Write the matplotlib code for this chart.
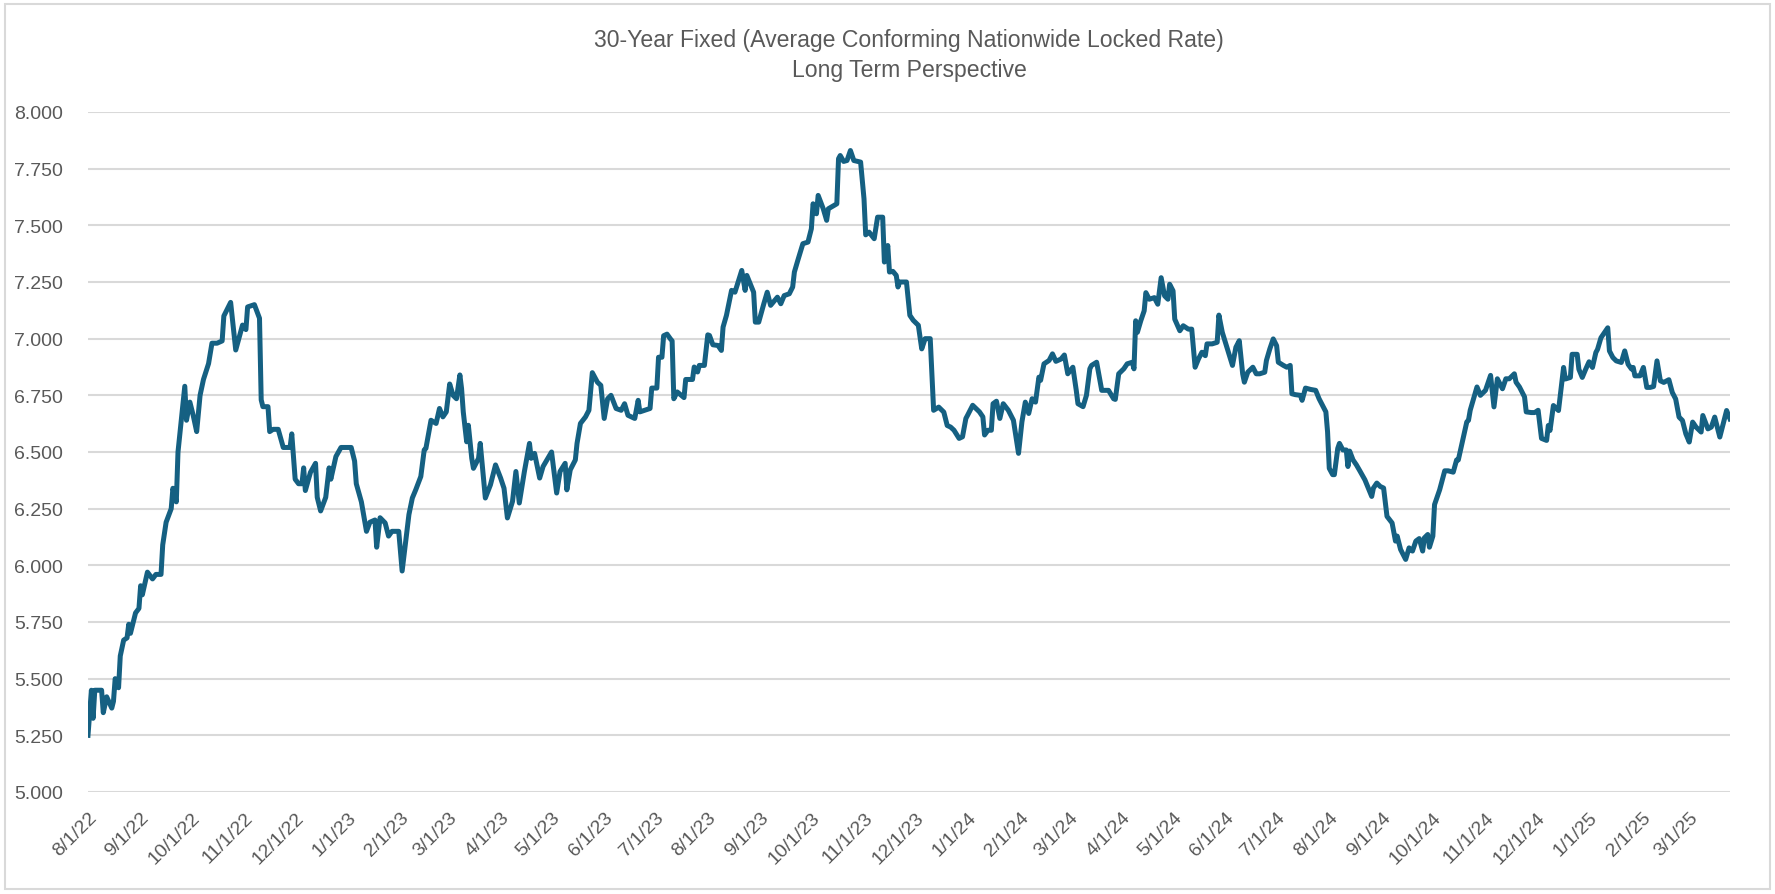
import matplotlib
matplotlib.use("Agg")
import matplotlib.pyplot as plt
import matplotlib.dates as mdates
from matplotlib.patches import Rectangle
import numpy as np

start_date = "2022-08-01"

# days after 8/1/22
day_offset = [
    0, 2, 3, 4, 7, 8, 9, 11, 14, 15, 16, 18, 19, 21, 23, 24, 25, 28, 30, 31, 32, 35, 38, 40, 43, 44, 46, 49, 50, 52, 53,
    57, 58, 60, 62, 64, 66, 68, 71, 73, 76, 79, 80, 84, 87, 91, 93, 94, 98, 101, 102, 103, 106, 107, 109, 112, 115,
    119, 120, 122, 124, 126, 127, 128, 131, 134, 135, 137, 140, 142, 143, 146, 149, 155, 157, 158, 161, 164, 166, 169,
    170, 172, 175, 177, 179, 183, 185, 187, 189, 191, 193, 196, 198, 199, 202, 205, 207, 209, 211, 213, 215, 217, 219,
    220, 221, 223, 224, 226, 227, 230, 231, 234, 237, 240, 243, 245, 247, 250, 252, 254, 257, 260, 261, 263, 266, 268,
    273, 276, 278, 281, 282, 284, 287, 288, 290, 293, 295, 297, 300, 302, 304, 306, 308, 311, 314, 316, 318, 322, 324,
    325, 331, 332, 335, 336, 338, 339, 341, 343, 344, 345, 347, 351, 352, 356, 357, 359, 360, 363, 365, 366, 368, 371,
    373, 374, 376, 379, 381, 385, 387, 388, 392, 393, 395, 398, 400, 402, 406, 408, 410, 413, 415, 416, 418, 421, 424,
    426, 427, 429, 430, 433, 435, 436, 441, 442, 443, 445, 447, 449, 451, 455, 457, 458, 460, 463, 465, 468, 469, 471,
    472, 474, 476, 477, 478, 482, 484, 486, 489, 491, 493, 496, 498, 501, 504, 506, 508, 510, 513, 515, 517, 518, 521,
    525, 527, 528, 530, 532, 533, 535, 537, 539, 542, 545, 548, 550, 552, 554, 556, 558, 560, 561, 563, 566, 568, 570,
    573, 575, 577, 580, 582, 583, 586, 588, 590, 591, 594, 597, 601, 604, 605, 607, 610, 612, 615, 616, 617, 618, 620,
    622, 623, 625, 628, 630, 632, 634, 636, 637, 639, 640, 643, 645, 648, 650, 652, 654, 656, 658, 659, 662, 665, 666,
    668, 671, 674, 676, 678, 680, 681, 683, 686, 688, 690, 693, 694, 696, 698, 700, 701, 704, 706, 708, 709, 711, 714,
    715, 717, 720, 723, 725, 727, 729, 730, 731, 733, 734, 736, 737, 739, 741, 742, 743, 745, 747, 749, 752, 754, 756,
    757, 759, 761, 763, 765, 768, 770, 771, 773, 776, 778, 780, 782, 784, 786, 787, 789, 790, 792, 793, 795, 796, 799,
    801, 804, 806, 807, 810, 812, 813, 814, 818, 820, 823, 826, 828, 830, 833, 835, 837, 840, 841, 843, 846, 847, 850,
    852, 854, 856, 859, 860, 861, 863, 866, 869, 870, 873, 874, 877, 878, 880, 882, 884, 886, 888, 889, 891, 893, 895,
    896, 898, 900, 903, 905, 907, 909, 910, 911, 914, 916, 918, 920, 922, 924, 926, 928, 931, 933, 935, 937, 939, 941,
    943, 945, 947, 950, 951, 954, 956, 958, 961, 963, 965, 967,
]

rate = [
    5.25, 5.449, 5.325, 5.449, 5.449, 5.449, 5.35, 5.42, 5.37, 5.40, 5.50, 5.46, 5.60, 5.67, 5.68, 5.74, 5.70, 5.79,
    5.81, 5.91, 5.87, 5.97, 5.94, 5.96, 5.96, 6.09, 6.19, 6.25, 6.34, 6.28, 6.50,
    6.79, 6.64, 6.72, 6.66, 6.59, 6.75, 6.82, 6.89, 6.98, 6.98, 6.99, 7.10, 7.16, 6.95, 7.06, 7.04, 7.14, 7.15, 7.09,
    6.73, 6.70, 6.70, 6.59, 6.60, 6.60, 6.52,
    6.52, 6.58, 6.38, 6.36, 6.36, 6.43, 6.33, 6.41, 6.45, 6.30, 6.24, 6.30, 6.43, 6.38, 6.48, 6.52, 6.52, 6.46, 6.36,
    6.28, 6.15, 6.19, 6.20,
    6.08, 6.21, 6.187, 6.129, 6.15, 6.15, 5.975, 6.10, 6.224, 6.297, 6.333, 6.392, 6.509, 6.516, 6.64, 6.626, 6.692,
    6.655, 6.677, 6.80, 6.75, 6.735, 6.84,
    6.78, 6.677, 6.545, 6.618, 6.472, 6.428, 6.472, 6.538, 6.297, 6.355, 6.443, 6.385, 6.34, 6.209, 6.282, 6.414,
    6.275, 6.414, 6.538, 6.472, 6.494, 6.385, 6.436,
    6.50, 6.319, 6.414, 6.45, 6.333, 6.421, 6.465, 6.538, 6.626, 6.655, 6.684, 6.85, 6.808, 6.794, 6.648, 6.735, 6.75,
    6.692, 6.684, 6.713, 6.662, 6.648, 6.728,
    6.677, 6.692, 6.782, 6.782, 6.918, 6.918, 7.013, 7.02, 6.999, 6.99, 6.735, 6.765, 6.74, 6.82, 6.82, 6.875, 6.853,
    6.882, 6.882, 7.017, 7.014, 6.973, 6.97,
    6.948, 7.051, 7.103, 7.213, 7.205, 7.301, 7.213, 7.279, 7.205, 7.073, 7.073, 7.154, 7.205, 7.147, 7.183, 7.154,
    7.19, 7.198, 7.228, 7.294, 7.345, 7.419, 7.426,
    7.485, 7.595, 7.551, 7.632, 7.573, 7.522, 7.573, 7.595, 7.794, 7.808, 7.782, 7.786, 7.83, 7.786, 7.779, 7.617,
    7.458, 7.47, 7.441, 7.536, 7.536, 7.338, 7.411,
    7.294, 7.297, 7.279, 7.228, 7.25, 7.25, 7.103, 7.081, 7.059, 6.955, 7.0, 7.0, 6.684, 6.698, 6.676, 6.617, 6.61,
    6.596, 6.56, 6.567, 6.648, 6.662, 6.706,
    6.677, 6.655, 6.575, 6.596, 6.596, 6.713, 6.724, 6.648, 6.713, 6.684, 6.64, 6.494, 6.633, 6.72, 6.67, 6.735, 6.72,
    6.83, 6.816, 6.889, 6.904, 6.933, 6.90,
    6.91, 6.928, 6.845, 6.874, 6.772, 6.713, 6.70, 6.75, 6.867, 6.882, 6.896, 6.772, 6.772, 6.735, 6.732, 6.845, 6.867,
    6.889, 6.896, 6.867, 7.079, 7.028, 7.079,
    7.123, 7.203, 7.174, 7.181, 7.152, 7.269, 7.189, 7.174, 7.24, 7.211, 7.086, 7.035, 7.057, 7.042, 7.042, 6.874,
    6.911, 6.94, 6.925, 6.977, 6.977, 6.984, 7.104,
    7.028, 6.955, 6.882, 6.962, 6.991, 6.845, 6.808, 6.852, 6.874, 6.845, 6.845, 6.852, 6.904, 6.955, 6.999, 6.969,
    6.896, 6.882, 6.874, 6.882, 6.757, 6.753, 6.75,
    6.728, 6.782, 6.776, 6.772, 6.735, 6.706, 6.677, 6.589, 6.428, 6.40, 6.40, 6.516, 6.538, 6.509, 6.509, 6.436,
    6.504, 6.465, 6.443, 6.417, 6.377, 6.341, 6.304,
    6.341, 6.363, 6.348, 6.341, 6.216, 6.187, 6.107, 6.129, 6.07, 6.026, 6.077, 6.063, 6.107, 6.118, 6.063, 6.121,
    6.136, 6.08, 6.129, 6.268, 6.311, 6.333, 6.417,
    6.417, 6.411, 6.465, 6.465, 6.567, 6.633, 6.64, 6.684, 6.787, 6.75, 6.772, 6.838, 6.699, 6.823, 6.779, 6.823,
    6.823, 6.845, 6.808, 6.787, 6.743, 6.677, 6.674,
    6.674, 6.684, 6.56, 6.551, 6.617, 6.595, 6.705, 6.683, 6.873, 6.822, 6.829, 6.931, 6.931, 6.865, 6.829, 6.865,
    6.898, 6.873, 6.939, 6.953, 7.004, 7.026, 7.048,
    6.946, 6.917, 6.902, 6.895, 6.946, 6.887, 6.866, 6.873, 6.836, 6.836, 6.873, 6.785, 6.785, 6.789, 6.902, 6.814,
    6.807, 6.819, 6.763, 6.734, 6.654, 6.639, 6.58,
    6.544, 6.632, 6.61, 6.588, 6.661, 6.602, 6.61, 6.654, 6.566, 6.624, 6.683, 6.646,
]

title_text = "30-Year Fixed (Average Conforming Nationwide Locked Rate)\nLong Term Perspective"

plt.rcParams["font.family"] = ["Liberation Sans", "DejaVu Sans"]

dates = np.datetime64(start_date) + np.array(day_offset).astype("timedelta64[D]")

W, H = 1775, 895
fig = plt.figure(figsize=(W / 100, H / 100), dpi=100)
fig.patch.set_facecolor("white")

# chart frame like the Excel chart object
fig.patches.append(Rectangle((5 / W, 5 / H), 1765 / W, 885 / H, transform=fig.transFigure,
                             fill=False, edgecolor="#d9d9d9", linewidth=1.5))

ax = fig.add_axes([88 / W, 1 - 793 / H, (1730 - 88) / W, (793 - 113) / H])
ax.plot(dates, rate, color="#156082", linewidth=3.6, solid_joinstyle="round")

ax.set_ylim(5.0, 8.0)
ax.set_yticks(np.arange(5.0, 8.001, 0.25))
ax.yaxis.set_major_formatter(plt.FuncFormatter(lambda y, _: "{:.3f}".format(y)))
ax.set_xlim(dates[0], dates[-1])

ax.xaxis.set_major_locator(mdates.MonthLocator())
ax.xaxis.set_major_formatter(plt.FuncFormatter(
    lambda x, _: "{d.month}/{d.day}/{y}".format(d=mdates.num2date(x), y=mdates.num2date(x).year % 100)))

ax.grid(axis="y", color="#d9d9d9", linewidth=1.5)
ax.set_axisbelow(True)
for s in ax.spines.values():
    s.set_visible(False)
ax.tick_params(axis="both", length=0, colors="#595959", labelsize=14)
ax.tick_params(axis="y", pad=18)
ax.tick_params(axis="x", pad=12)
for lbl in ax.get_xticklabels():
    lbl.set_rotation(45)
    lbl.set_ha("right")
    lbl.set_va("top")
    lbl.set_rotation_mode("anchor")

fig.text((88 + 1730) / 2 / W, 1 - 29 / H, title_text, ha="center", va="top",
         fontsize=16.6, color="#595959", linespacing=1.4)

fig.savefig("out.png", dpi=100, facecolor="white")
